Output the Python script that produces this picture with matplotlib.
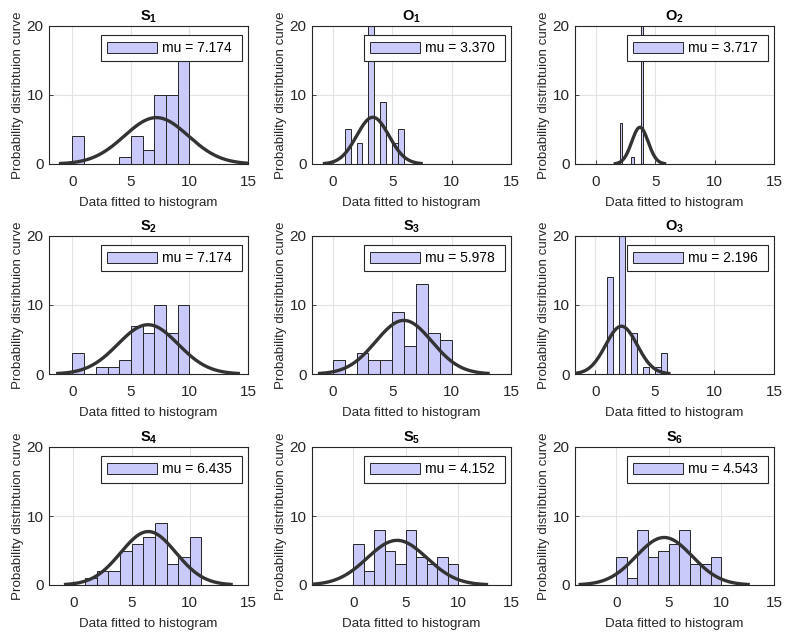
import numpy as np
import matplotlib
matplotlib.use("Agg")
import matplotlib.pyplot as plt

plt.rcParams['font.family'] = ['Liberation Sans', 'DejaVu Sans']
plt.rcParams['mathtext.fontset'] = 'custom'
plt.rcParams['mathtext.rm'] = 'Liberation Sans'
plt.rcParams['mathtext.bf'] = 'Liberation Sans:bold'

# ---- data ----
titles = ['S_1', 'O_1', 'O_2', 'S_2', 'S_3', 'O_3', 'S_4', 'S_5', 'S_6']
legend_mu = ['7.174', '3.370', '3.717', '7.174', '5.978', '2.196', '6.435', '4.152', '4.543']

bin_start = [0, 1, 2, 0, 0, 1, 1, 0, 0]
bin_width = [1, 0.5, 0.2, 1, 1, 0.5, 1, 1, 1]

counts_S1 = [4, 0, 0, 0, 1, 4, 2, 10, 10, 15]
counts_O1 = [5, 0, 3, 0, 21, 0, 9, 0, 3, 5]
counts_O2 = [6, 0, 0, 0, 0, 1, 0, 0, 0, 39]
counts_S2 = [3, 0, 1, 1, 2, 7, 6, 10, 6, 10]
counts_S3 = [2, 0, 3, 2, 2, 9, 4, 13, 6, 5]
counts_O3 = [14, 0, 21, 0, 6, 0, 1, 0, 1, 3]
counts_S4 = [1, 2, 2, 5, 6, 7, 9, 3, 4, 7]
counts_S5 = [6, 2, 8, 5, 3, 8, 4, 3, 4, 3]
counts_S6 = [4, 1, 8, 4, 5, 6, 8, 3, 3, 4]
all_counts = [counts_S1, counts_O1, counts_O2, counts_S2, counts_S3,
              counts_O3, counts_S4, counts_S5, counts_S6]

# fitted normal parameters
fit_mu = [7.174, 3.370, 3.717, 6.46, 5.978, 2.196, 6.435, 4.152, 4.543]
fit_sigma = [2.73, 1.355, 0.69, 2.57, 2.363, 1.326, 2.37, 2.836, 2.665]

x_left = [-2.0, -1.75, -1.75, -2.0, -1.75, -1.7, -2.1, -3.95, -3.95]

# ---- layout ----
W, H = 789, 636
fig = plt.figure(figsize=(W / 100, H / 100), dpi=100)
col_left = [49, 312, 575]
row_top = [26, 236, 447]
aw, ah = 199, 138

bar_color = '#c9c9fa'
edge_dark = '#262626'

for i in range(9):
    r, c = divmod(i, 3)
    ax = fig.add_axes([col_left[c] / W, 1 - (row_top[r] + ah) / H, aw / W, ah / H])
    cnt = np.array(all_counts[i])
    edges = bin_start[i] + bin_width[i] * np.arange(len(cnt))
    ax.bar(edges, cnt, width=bin_width[i], align='edge', color=bar_color,
           edgecolor=edge_dark, linewidth=0.7, label='mu = ' + legend_mu[i] + ' ', zorder=2)
    n = cnt.sum()
    mu, sd = fit_mu[i], fit_sigma[i]
    xs = np.linspace(mu - 3 * sd, mu + 3 * sd, 200)
    ys = n * bin_width[i] * np.exp(-0.5 * ((xs - mu) / sd) ** 2) / (sd * np.sqrt(2 * np.pi))
    ax.plot(xs, ys, color='#333333', linewidth=2.4, zorder=3)

    ax.set_xlim(x_left[i], 15)
    ax.set_ylim(0, 20)
    ax.set_xticks([0, 5, 10, 15])
    ax.set_yticks([0, 10, 20])
    ax.grid(True, color='#e3e3e3', linewidth=0.8, zorder=0)
    ax.set_axisbelow(True)
    ax.tick_params(axis='both', direction='in', length=3, width=0.6, labelsize=11,
                   colors='#262626')
    ax.tick_params(axis='x', pad=8)
    ax.tick_params(axis='y', pad=4)
    for sp in ax.spines.values():
        sp.set_color('#262626')
        sp.set_linewidth(0.8)
    ax.set_xlabel('Data fitted to histogram', fontsize=9.6, color='#262626', labelpad=6)
    ax.set_ylabel('Probability distribtuion curve', fontsize=9.6, color='#262626', labelpad=2)
    letter, num = titles[i].split('_')
    ax.set_title(r'$\mathbf{%s}_\mathbf{%s}$' % (letter, num), fontsize=10.5, pad=4)
    leg = ax.legend(loc='upper right', bbox_to_anchor=(1 - 6 / aw, 1 - 9 / ah),
                    borderaxespad=0, fontsize=10, handlelength=3.6, handleheight=0.8,
                    fancybox=False, framealpha=1, edgecolor='#262626',
                    borderpad=0.45, handletextpad=0.35)
    leg.get_frame().set_linewidth(0.8)

fig.savefig('out.png', dpi=100)
